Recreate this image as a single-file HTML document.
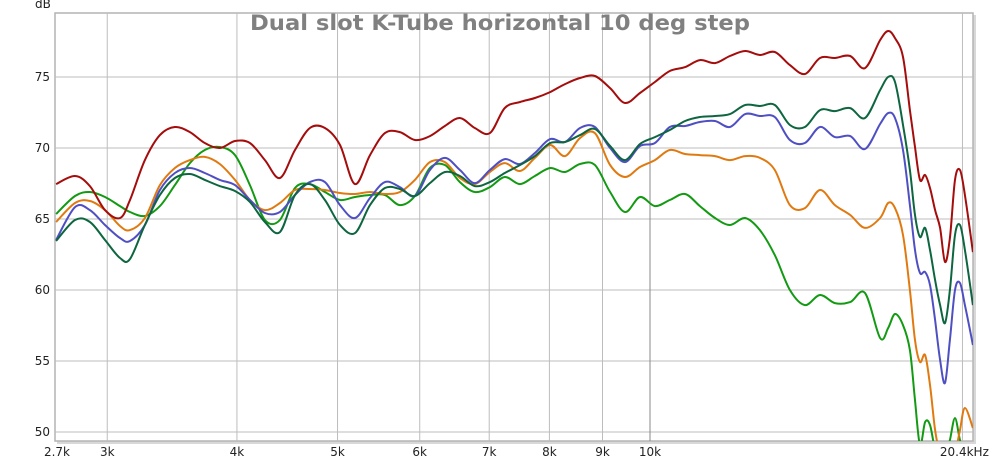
<!DOCTYPE html>
<html><head><meta charset="utf-8">
<style>
html,body{margin:0;padding:0;background:#fff;}
svg{display:block;font-family:"DejaVu Sans","Liberation Sans",sans-serif;}
</style></head>
<body>
<svg id="chart" width="1000" height="461" viewBox="0 0 1000 461" xmlns="http://www.w3.org/2000/svg">
  <defs><clipPath id="plotclip"><rect x="55" y="13" width="918" height="428"/></clipPath></defs>
  <rect x="57" y="15" width="919" height="429" fill="#d8d8d8"/>
  <rect x="55" y="13" width="918" height="428" fill="#fff" stroke="#b4b4b4" stroke-width="1.5"/>
  <g id="grid"></g>
  <g id="series" clip-path="url(#plotclip)"></g>
  <g id="axes"></g>
  <text x="500" y="30" text-anchor="middle" font-size="21" font-weight="bold" fill="#808080" textLength="500" lengthAdjust="spacingAndGlyphs">Dual slot K-Tube horizontal 10 deg step</text>
  <text x="35" y="8" font-size="12" fill="#222">dB</text>
</svg>
<script>
const freqs=[2.678,2.793,2.887,2.985,3.086,3.155,3.261,3.372,3.486,3.604,3.725,3.851,3.983,4.117,4.256,4.400,4.550,4.703,4.862,5.027,5.197,5.373,5.554,5.742,5.936,6.137,6.344,6.559,6.780,7.010,7.247,7.494,7.747,8.012,8.282,8.562,8.850,9.152,9.460,9.781,10.11,10.45,10.81,11.17,11.55,11.94,12.35,12.76,13.19,13.64,14.10,14.58,15.07,15.59,16.11,16.66,16.96,17.22,17.53,17.80,18.00,18.20,18.41,18.61,18.82,19.03,19.24,19.45,19.67,19.89,20.11,20.47];
const redDb=[67.46,68.03,67.32,65.63,65.07,66.34,69.15,70.91,71.48,71.12,70.35,70.0,70.49,70.35,69.15,67.89,69.86,71.41,71.41,70.21,67.46,69.5,71.05,71.12,70.56,70.84,71.55,72.11,71.41,71.05,72.82,73.24,73.52,73.94,74.5,74.93,75.07,74.22,73.17,73.87,74.65,75.42,75.7,76.19,75.98,76.48,76.83,76.55,76.76,75.84,75.21,76.34,76.34,76.48,75.63,77.6,78.24,77.74,76.41,72.67,70.07,67.75,68.1,67.18,65.63,64.37,61.97,63.66,67.75,68.45,66.69,62.67];
const darkGreenDb=[63.45,64.93,64.79,63.52,62.25,62.18,64.58,66.69,67.89,68.17,67.75,67.32,66.97,66.2,64.79,64.08,66.69,67.46,66.34,64.58,64.01,65.98,67.18,67.11,66.62,67.53,68.31,68.03,67.32,67.6,68.24,68.8,69.43,70.35,70.42,70.91,71.34,70.14,69.15,70.28,70.77,71.27,71.9,72.18,72.25,72.39,73.03,72.96,73.03,71.62,71.48,72.67,72.6,72.81,72.11,74.08,75.0,74.65,71.62,68.45,65.28,63.73,64.37,62.82,60.7,58.94,57.67,60.0,63.87,64.58,62.82,58.94];
const blueDb=[63.52,65.84,65.63,64.58,63.66,63.45,64.58,67.04,68.24,68.59,68.24,67.75,67.39,66.34,65.42,65.49,66.69,67.6,67.6,65.98,65.07,66.48,67.6,67.25,66.62,68.45,69.3,68.45,67.53,68.45,69.22,68.87,69.65,70.63,70.42,71.41,71.48,70.0,69.01,70.14,70.35,71.48,71.55,71.83,71.9,71.48,72.39,72.25,72.18,70.56,70.35,71.48,70.77,70.84,69.93,71.69,72.46,72.11,69.86,65.98,62.82,61.2,61.27,60.35,57.89,55.07,53.45,56.48,60.0,60.49,58.94,56.13];
const orangeDb=[64.79,66.13,66.27,65.63,64.51,64.22,65.07,67.39,68.59,69.15,69.37,68.87,67.75,66.34,65.63,66.13,67.04,67.11,67.04,66.83,66.76,66.9,66.76,66.9,67.75,69.01,69.01,67.89,67.46,68.31,68.94,68.38,69.3,70.21,69.43,70.7,71.05,68.8,67.96,68.66,69.15,69.86,69.58,69.5,69.43,69.15,69.43,69.3,68.45,65.98,65.77,67.04,65.98,65.28,64.37,65.07,66.13,65.77,63.87,59.99,56.48,54.93,55.42,53.31,50.14,48.38,47.32,47.32,48.38,50.14,51.69,50.28];
const greenDb=[65.35,66.62,66.9,66.55,65.91,65.49,65.21,65.91,67.39,68.94,69.86,70.07,69.5,67.39,64.93,64.93,67.18,67.46,66.9,66.34,66.55,66.69,66.69,65.98,66.62,68.59,68.8,67.6,66.9,67.25,67.96,67.46,68.03,68.59,68.31,68.87,68.8,66.9,65.49,66.55,65.91,66.34,66.76,65.91,65.07,64.58,65.07,64.22,62.46,60.0,58.94,59.65,59.08,59.15,59.79,56.62,57.32,58.31,57.53,55.77,52.25,49.08,50.7,50.49,48.73,48.03,48.03,49.43,50.98,49.43,48.38,47.68];
const yTicks=[50,55,60,65,70,75];
const xGridFreqs=[3,4,5,6,7,8,9,10,20];
const xTickLabels=["2.7k","3k","4k","5k","6k","7k","8k","9k","10k","20.4kHz"];
const xTickFreqs=[2.7,3,4,5,6,7,8,9,10,20.4];

const NS="http://www.w3.org/2000/svg";
const X10K=650, PX_PER_DEC=1038;
function xScale(f){return X10K+Math.log10(f/10)*PX_PER_DEC;}
function yScale(db){return 77+(75-db)*14.2;}
function mk(tag,attrs,parent){const e=document.createElementNS(NS,tag);for(const k in attrs)e.setAttribute(k,attrs[k]);parent.appendChild(e);return e;}

const grid=document.getElementById('grid');
yTicks.forEach(v=>{
  const y=yScale(v);
  const l=mk('line',{x1:55,x2:973,y1:y,y2:y,stroke:'#bdbdbd','stroke-width':1},grid);
  
  
});
xGridFreqs.forEach(f=>{
  const x=xScale(f);
  const l=mk('line',{x1:x,x2:x,y1:13,y2:441,stroke:f===10?'#8a8a8a':'#bdbdbd','stroke-width':1},grid);
  
  
});

const axes=document.getElementById('axes');
yTicks.forEach(v=>{
  const t=mk('text',{x:50,y:yScale(v)+4,'text-anchor':'end','font-size':12,fill:'#222'},axes);
  t.textContent=String(v);
  
  
});
xTickLabels.forEach((lab,i)=>{
  let x=xScale(xTickFreqs[i]);
  if(i===0) x=Math.max(57,x-3);
  if(i===xTickLabels.length-1) x=x-7;
  const t=mk('text',{x:x,y:456,'text-anchor':'middle','font-size':12,fill:'#222'},axes);
  t.textContent=lab;
  
  
});

function pathFor(vals){
  const n=Math.min(freqs.length,vals.length);
  const P=[];for(let i=0;i<n;i++)P.push([xScale(freqs[i]),yScale(vals[i])]);
  let d='M'+P[0][0].toFixed(1)+','+P[0][1].toFixed(1);
  for(let i=0;i<n-1;i++){
    const p0=P[Math.max(0,i-1)],p1=P[i],p2=P[i+1],p3=P[Math.min(n-1,i+2)];
    const c1=[p1[0]+(p2[0]-p0[0])/6,p1[1]+(p2[1]-p0[1])/6];
    const c2=[p2[0]-(p3[0]-p1[0])/6,p2[1]-(p3[1]-p1[1])/6];
    d+=' C'+c1[0].toFixed(1)+','+c1[1].toFixed(1)+' '+c2[0].toFixed(1)+','+c2[1].toFixed(1)+' '+p2[0].toFixed(1)+','+p2[1].toFixed(1);
  }
  return d;
}
const sg=document.getElementById('series');
const seriesList=[[greenDb,'#139a13','series-green'],[orangeDb,'#e07a10','series-orange'],[blueDb,'#4f4fc4','series-blue'],[darkGreenDb,'#0e6640','series-dark-green'],[redDb,'#a50c0c','series-red']];
seriesList.forEach(s=>{
  const p=mk('path',{d:pathFor(s[0]),fill:'none',stroke:s[1],'stroke-width':2,'stroke-linejoin':'round'},sg);
  
  
});
</script>
</body></html>
